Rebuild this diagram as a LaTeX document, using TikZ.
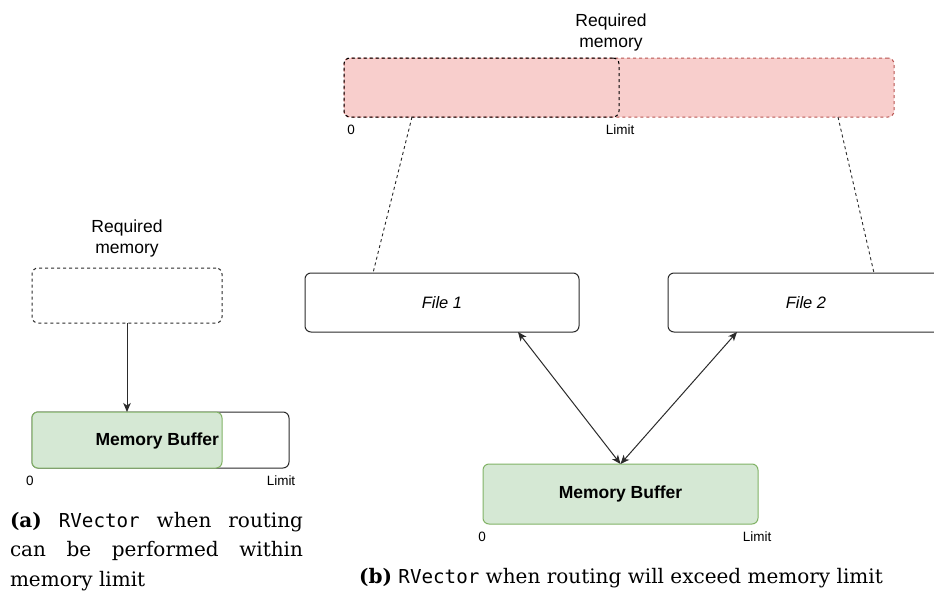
\documentclass[tikz,border=0pt]{standalone}
\usepackage{fontspec}
\setmainfont{DejaVu Serif}
\setmonofont{DejaVu Sans Mono}[Scale=0.96]
\newfontfamily\diagfont{Liberation Sans}
\usetikzlibrary{arrows.meta}

\definecolor{greenfill}{HTML}{D5E8D4}
\definecolor{greenline}{HTML}{82B366}
\definecolor{redfill}{HTML}{F8CECC}
\definecolor{redline}{HTML}{B85450}
\definecolor{ink}{HTML}{2B2B2B}

\tikzset{
  every node/.style={inner sep=0pt, outer sep=0pt},
  shape box/.style={draw=ink, line width=1pt, rounded corners=6pt, rectangle},
  filebox/.style={shape box, fill=white, font=\diagfont\itshape\fontsize{16.5}{20}\selectfont},
  bufbox/.style={shape box, draw=greenline, fill=greenfill, font=\diagfont\bfseries\fontsize{17.5}{21}\selectfont},
  limitbox/.style={shape box, fill=white},
  reqbox/.style={shape box, dash pattern=on 3pt off 3pt},
  redbox/.style={shape box, draw=redline, fill=redfill, dash pattern=on 3pt off 3pt},
  halfbox/.style={shape box, draw=black, dash pattern=on 3pt off 3pt},
  reqtext/.style={align=center, font=\diagfont\fontsize{17.5}{21}\selectfont},
  scale mark/.style={font=\diagfont\fontsize{13.5}{16}\selectfont},
  boldtext/.style={font=\diagfont\bfseries\fontsize{17.5}{21}\selectfont},
  dashline/.style={draw=ink, line width=0.9pt, dash pattern=on 3pt off 3pt},
  arrowline/.style={draw=ink, line width=1pt, -{Stealth[length=9pt,width=7.5pt,inset=2.5pt]}},
  twoway/.style={draw=ink, line width=1pt, {Stealth[length=9pt,width=7.5pt,inset=2.5pt]}-{Stealth[length=9pt,width=7.5pt,inset=2.5pt]}},
  captext/.style={font=\fontsize{20}{29}\selectfont},
}

\begin{document}
\begin{tikzpicture}[x=1pt,y=-1pt]
  \clip (0,0) rectangle (934,597);
  \fill[white] (0,0) rectangle (934,597);

  % ---------- (a) routing fits in the buffer ----------
  \node[reqtext] (reqa text) at (127,238.5) {Required\\memory};
  \node[reqbox, minimum width=190pt, minimum height=55pt] (reqa) at (127,295.5) {};

  \node[limitbox, minimum width=257pt, minimum height=56pt] (lima) at (160.5,440) {};
  \node[bufbox, minimum width=190pt, minimum height=56pt] (bufa) at (127,440) {};
  \node[boldtext, anchor=east] (bufa text) at (219,441) {Memory Buffer};
  \node[scale mark] (zeroa) at (30,481) {0};
  \node[scale mark] (limita) at (281,481) {Limit};

  \draw[arrowline] (reqa.south) -- (bufa.north);

  \node[captext, anchor=base west] (capa1) at (10,527)
    {\makebox[293pt][s]{\textbf{(a)} \texttt{RVector} when routing}};
  \node[captext, anchor=base west] (capa2) at (10,556.5)
    {\makebox[293pt][s]{can be performed within}};
  \node[captext, anchor=base west] (capa3) at (10,586) {memory limit};

  % ---------- (b) routing exceeds the buffer ----------
  \node[reqtext] (reqb text) at (611,32) {Required\\memory};
  \node[redbox, minimum width=550pt, minimum height=59pt] (reqb) at (619,87.5) {};
  \node[halfbox, minimum width=275pt, minimum height=59pt] (fitb) at (481.5,87.5) {};
  \node[scale mark] (zerob) at (351,130) {0};
  \node[scale mark] (limitb) at (620,130) {Limit};

  \node[filebox, minimum width=274pt, minimum height=59pt] (file1) at (442,302.5) {File 1};
  \node[filebox, minimum width=276pt, minimum height=59pt] (file2) at (806,302.5) {File 2};

  \node[bufbox, minimum width=275pt, minimum height=60pt] (bufb) at (620.5,494) {Memory Buffer};
  \node[scale mark] (zerob2) at (482,537) {0};
  \node[scale mark] (limitb2) at (757,537) {Limit};

  \draw[dashline] ([xshift=68pt]reqb.south west) -- ([xshift=68pt]file1.north west);
  \draw[dashline] ([xshift=-56pt]reqb.south east) -- ([xshift=206pt]file2.north west);

  \draw[twoway] ([xshift=213pt]file1.south west) -- (bufb.north);
  \draw[twoway] ([xshift=69pt]file2.south west) -- (bufb.north);

  \node[captext, anchor=base] (capb) at (621,583)
    {\textbf{(b)} \texttt{RVector} when routing will exceed memory limit};
\end{tikzpicture}
\end{document}
